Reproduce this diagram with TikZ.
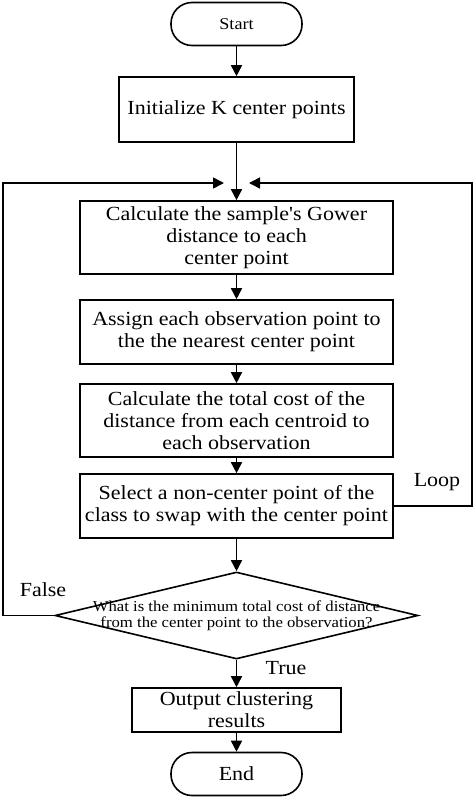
\documentclass[tikz,border=0pt]{standalone}
\usepackage{fontspec}
\setmainfont{Liberation Serif}[FakeStretch=1.1]
\newcommand{\straightq}{{\addfontfeatures{Ligatures=TeXOff}'}}
\usetikzlibrary{shapes.geometric,arrows.meta}
\tikzset{
  box/.style={draw, line width=1.6pt, rectangle, inner sep=0pt, align=center,
    font=\fontsize{20pt}{22pt}\selectfont},
  term/.style={draw, line width=1.6pt, rectangle, rounded corners=21pt, inner sep=0pt,
    minimum width=131pt, minimum height=43pt},
  dec/.style={draw, line width=1.6pt, diamond, inner sep=0pt, minimum width=363pt, minimum height=87pt},
  arr/.style={line width=1.6pt, -{Triangle[length=11pt,width=11pt]}},
  lbl/.style={font=\fontsize{20pt}{22pt}\selectfont}
}
\begin{document}
\begin{tikzpicture}[x=1pt,y=1pt]
\useasboundingbox (0,0) rectangle (474,-798);
\node[term, font=\fontsize{16.5pt}{18pt}\selectfont] (start) at (236.5,-24) {Start};
\node[box, minimum width=235pt, minimum height=65pt] (init) at (236.5,-109.5) {Initialize K center points};
\node[box, minimum width=313pt, minimum height=73pt] (calc) at (236.5,-237.5) {Calculate the sample\straightq s Gower\\distance to each\\center point};
\node[box, minimum width=313pt, minimum height=64pt] (assign) at (236.5,-332) {Assign each observation point to\\the the nearest center point};
\node[box, minimum width=313pt, minimum height=73pt] (cost) at (236.5,-420.5) {Calculate the total cost of the\\distance from each centroid to\\each observation};
\node[box, minimum width=313pt, minimum height=64pt] (select) at (236.5,-506) {Select a non-center point of the\\class to swap with the center point};
\node[dec, label={[font=\fontsize{15.2pt}{16pt}\selectfont, align=center]center:What is the minimum total cost of distance\\from the center point to the observation?}] (dec) at (236.5,-615.5) {};
\node[box, minimum width=209pt, minimum height=44pt] (out) at (236.5,-710) {Output clustering\\results};
\node[term, font=\fontsize{20pt}{22pt}\selectfont] (end) at (236.5,-774) {End};

\coordinate (loopR) at (472,-183);
\coordinate (loopTip) at (249,-183);
\coordinate (falseL) at (3,-183);
\coordinate (falseTip) at (224,-183);

\draw[arr] (start) -- (init);
\draw[arr] (init) -- (calc);
\draw[arr] (calc) -- (assign);
\draw[arr] (assign) -- (cost);
\draw[arr] (cost) -- (select);
\draw[arr] (select) -- (dec);
\draw[arr] (dec.south) -- (out);
\draw[arr] (out) -- (end);
\draw[arr] (select.east) -| (loopR) -- (loopTip);
\draw[arr] (dec.west) -| (falseL) -- (falseTip);

\node[lbl] (loop) at (437,-482) {Loop};
\node[lbl] (false) at (43,-590) {False};
\node[lbl] (true) at (286,-668) {True};
\end{tikzpicture}
\end{document}
